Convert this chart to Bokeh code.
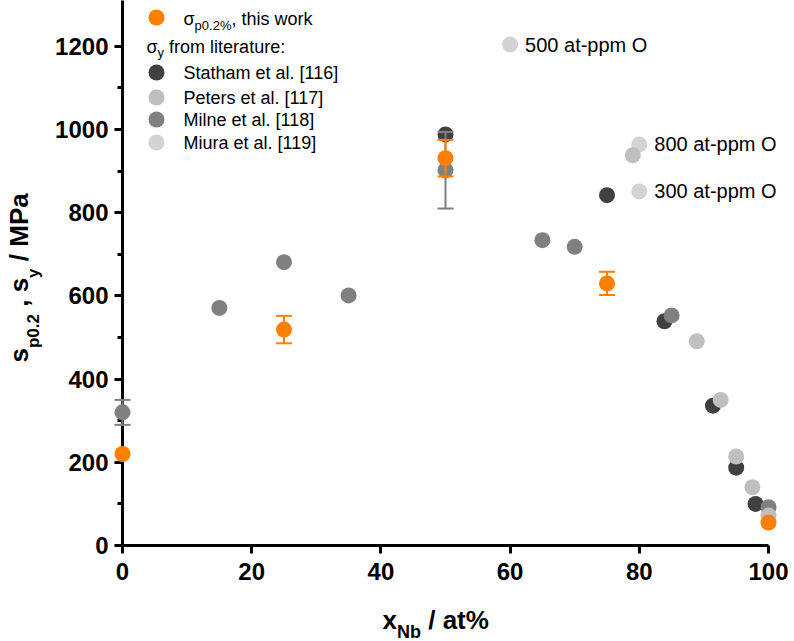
import math
from bokeh.plotting import figure
from bokeh.models import Range1d, FixedTicker
from bokeh.core.properties import value
from bokeh.embed import file_html
from bokeh.resources import INLINE

# ---------------- data ----------------
this_x = [0, 25, 50, 75, 100]
this_y = [220, 519, 931, 630, 55]
this_err = [0, 33, 44, 28, 0]

statham_x = [50, 75, 83.9, 91.4, 95, 98]
statham_y = [988, 842, 539, 336, 187, 100]

peters_x = [79, 88.9, 92.6, 95, 97.5, 100]
peters_y = [938, 491, 350, 214, 140, 72]

milne_x = [0, 15, 25, 35, 50, 65, 70, 85, 100]
milne_y = [320, 571, 681, 601, 902, 734, 718, 553, 92]
milne_err = [30, 0, 0, 0, 92, 0, 0, 0, 0]

miura_x = [60, 80, 80]
miura_y = [1204, 964, 851]
miura_labels = ["500 at-ppm O", "800 at-ppm O", "300 at-ppm O"]

x_ticks = [0, 20, 40, 60, 80, 100]
y_ticks = [0, 200, 400, 600, 800, 1000, 1200]
y_minor = [100, 300, 500, 700, 900, 1100]

legend_names = ["Statham et al. [116]", "Peters et al. [117]",
                "Milne et al. [118]", "Miura et al. [119]"]

# ---------------- styles / layout ----------------
ORANGE = "#FF7F00"
C_STATHAM = "#404040"
C_PETERS = "#BFBFBF"
C_MILNE = "#808080"
C_MIURA = "#D3D3D3"
FONT = "Liberation Sans"

W, H = 794, 641
FRAME_L, FRAME_R, FRAME_T, FRAME_B = 122, 768, 0, 545
X_LO, X_HI = 0, 100
Y_LO, Y_HI = 0, 1310
SX = (FRAME_R - FRAME_L) / (X_HI - X_LO)
SY = (FRAME_B - FRAME_T) / (Y_HI - Y_LO)
LVL = "overlay"
MID = 0.3465  # distance (in em) from alphabetic baseline to the 'middle' baseline


def dx(px):
    return X_LO + (px - FRAME_L) / SX


def dy(py):
    return Y_LO + (FRAME_B - py) / SY


REG = {' ': .278, ',': .278, '.': .278, '%': .889, ':': .278, 'a': .556, 'b': .556,
       'e': .556, 'f': .278, 'h': .556, 'i': .222, 'k': .5, 'l': .222, 'm': .833,
       'o': .556, 'p': .556, 'r': .333, 's': .5, 't': .278, 'u': .556, 'w': .722,
       'y': .5, 'σ': .617}
BOLD = {' ': .278, ',': .278, '.': .278, '/': .278, '%': .889, 'a': .556, 'b': .611,
        'p': .611, 's': .556, 't': .333, 'x': .556, 'y': .556, 'M': .833, 'N': .722,
        'P': .667}


def twidth(s, size, bold):
    tbl = BOLD if bold else REG
    return sum(tbl.get(c, 0.556) for c in s) * size


p = figure(width=W, height=H, x_range=Range1d(X_LO, X_HI), y_range=Range1d(Y_LO, Y_HI),
           output_backend="svg", toolbar_location=None,
           min_border_left=FRAME_L, min_border_right=W - FRAME_R,
           min_border_top=FRAME_T, min_border_bottom=H - FRAME_B)
p.outline_line_color = None
p.xgrid.grid_line_color = None
p.ygrid.grid_line_color = None
p.background_fill_color = "white"
p.border_fill_color = "white"

for ax in (p.xaxis[0], p.yaxis[0]):
    ax.axis_line_width = 3
    ax.axis_line_color = "black"
    ax.major_tick_line_width = 3
    ax.major_tick_line_color = "black"
    ax.major_tick_out = 8
    ax.major_tick_in = 0
    ax.minor_tick_line_width = 3
    ax.minor_tick_line_color = "black"
    ax.minor_tick_out = 5
    ax.minor_tick_in = 0
    ax.major_label_text_font = FONT
    ax.major_label_text_font_style = "bold"
    ax.major_label_text_font_size = "24px"
    ax.major_label_text_color = "black"
    ax.axis_label = None

p.xaxis[0].ticker = FixedTicker(ticks=x_ticks, minor_ticks=[])
p.xaxis[0].major_label_standoff = 9
p.yaxis[0].ticker = FixedTicker(ticks=y_ticks, minor_ticks=y_minor)
p.yaxis[0].major_label_standoff = 6


def rich(pieces, x_px, y_px, vertical=False):
    """Place text pieces on a common alphabetic baseline (y_px, or x_px if vertical)."""
    pos = 0.0
    for txt, size, bold, shift in pieces:
        stripped = txt.lstrip(" ")
        lead = twidth(txt[:len(txt) - len(stripped)], size, bold)
        start = pos + lead
        if vertical:
            lx, ly, ang = x_px + shift - MID * size, y_px - start, math.pi / 2
        else:
            lx, ly, ang = x_px + start, y_px + shift - MID * size, 0
        p.text([dx(lx)], [dy(ly)], text=[stripped], angle=ang,
               text_font=value(FONT), text_font_size=f"{size}px",
               text_font_style="bold" if bold else "normal",
               text_color="black", text_baseline="middle",
               text_align="left", level=LVL)
        pos += twidth(txt, size, bold)


# ---------------- literature points ----------------
MS = 16
p.scatter(miura_x, miura_y, size=MS, color=C_MIURA, line_color=None, level=LVL)
p.scatter(statham_x, statham_y, size=MS, color=C_STATHAM, line_color=None, level=LVL)
p.scatter(milne_x, milne_y, size=MS, color=C_MILNE, line_color=None, level=LVL)
p.scatter(peters_x, peters_y, size=MS, color=C_PETERS, line_color=None, level=LVL)

# error bars (Milne, grey)
mx = [x for x, e in zip(milne_x, milne_err) if e > 0]
my = [y for y, e in zip(milne_y, milne_err) if e > 0]
me = [e for e in milne_err if e > 0]
p.segment(mx, [y - e for y, e in zip(my, me)], mx, [y + e for y, e in zip(my, me)],
          line_color=C_MILNE, line_width=2, level=LVL)
p.scatter(mx + mx, [y - e for y, e in zip(my, me)] + [y + e for y, e in zip(my, me)],
          marker="dash", size=16, line_color=C_MILNE, line_width=2, level=LVL)

# error bars (this work, orange)
tx = [x for x, e in zip(this_x, this_err) if e > 0]
ty = [y for y, e in zip(this_y, this_err) if e > 0]
te = [e for e in this_err if e > 0]
p.segment(tx, [y - e for y, e in zip(ty, te)], tx, [y + e for y, e in zip(ty, te)],
          line_color=ORANGE, line_width=2, level=LVL)
p.scatter(tx + tx, [y - e for y, e in zip(ty, te)] + [y + e for y, e in zip(ty, te)],
          marker="dash", size=16, line_color=ORANGE, line_width=2, level=LVL)

p.scatter(this_x, this_y, size=MS, color=ORANGE, line_color=None, level=LVL)

# oxygen annotations
p.text(miura_x, miura_y, text=miura_labels, x_offset=15, text_baseline="middle",
       text_align="left", text_font=value(FONT), text_font_size="20px",
       text_color="black", level=LVL)

# ---------------- legend ----------------
LEG_MX = 156
LEG_TX = 183
p.scatter([dx(LEG_MX)], [dy(17)], size=MS, color=ORANGE, line_color=None, level=LVL)
rich([("σ", 18, False, 0), ("p0.2%", 13, False, 5), (", this work", 18, False, 0)],
     LEG_TX, 25)
rich([("σ", 18, False, 0), ("y", 13, False, 4), (" from literature:", 18, False, 0)],
     146, 53)
leg_rows = [72, 97, 119, 142]
leg_cols = [C_STATHAM, C_PETERS, C_MILNE, C_MIURA]
p.scatter([dx(LEG_MX)] * 4, [dy(r) for r in leg_rows], size=MS, color=leg_cols,
          line_color=None, level=LVL)
for name, r in zip(legend_names, leg_rows):
    rich([(name, 18, False, 0)], LEG_TX, r + 7)

# ---------------- axis titles ----------------
rich([("x", 26, True, 0), ("Nb", 18, True, 9), (" / at%", 26, True, 0)], 382, 629)
rich([("s", 26, True, 0), ("p0.2", 17, True, 11), (" , s", 26, True, 0),
      ("y", 17, True, 11), (" / MPa", 26, True, 0)], 28, 362, vertical=True)

open("out.html", "w").write(file_html(p, INLINE))
